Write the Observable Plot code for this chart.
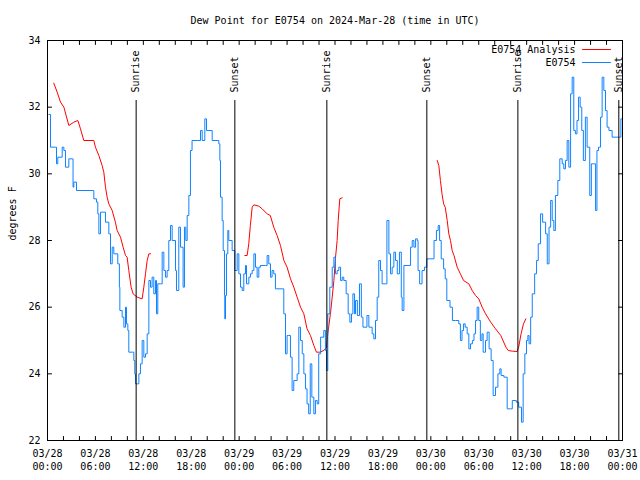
<!DOCTYPE html>
<html>
<head>
<meta charset="utf-8">
<script src="https://cdn.jsdelivr.net/npm/d3@7"></script>
<script src="https://cdn.jsdelivr.net/npm/@observablehq/plot@0.6"></script>
<style>
  html, body { margin: 0; padding: 0; background: white; }
</style>
</head>
<body>
<div id="chart"></div>
<script>
// ---------- DATA (hours since 2024-03-28 00:00 UTC) ----------
const titleText = "Dew Point for E0754 on 2024-Mar-28 (time in UTC)";
const yLabel = "degrees F";
const seriesNames = ["E0754 Analysis", "E0754"];
const yTicks = [22, 24, 26, 28, 30, 32, 34];

const stationHours = [
  0.17,0.38,1.0,1.13,1.29,1.84,2.05,2.25,2.67,3.09,3.2,3.3,3.63,5.72,5.8,6.13,6.3,6.43,6.64,7.05,
  7.26,7.6,7.68,7.89,8.1,8.3,8.8,9.0,9.06,9.35,9.56,9.77,9.89,10.06,10.18,10.6,10.81,10.93,11.02,11.23,
  11.44,11.64,11.85,12.06,12.27,12.48,12.69,12.9,13.1,13.31,13.52,13.65,13.81,14.15,14.36,14.57,14.77,14.98,15.19,15.4,
  15.61,16.03,16.15,16.44,16.65,16.98,17.15,17.32,17.49,17.7,17.9,18.1,18.74,19.16,19.37,19.7,19.91,20.62,21.45,21.58,
  21.66,21.87,22.0,22.16,22.2,22.29,22.41,22.58,22.7,23.12,23.46,23.75,23.96,24.17,24.38,24.58,24.79,24.92,25.21,25.42,
  25.63,25.84,26.04,26.25,26.46,26.67,27.29,27.5,27.71,27.92,28.12,28.33,28.54,29.38,29.59,29.8,30.0,30.2,30.42,30.63,
  30.84,31.26,31.47,31.68,31.9,32.1,32.3,32.5,32.7,32.9,33.1,33.35,33.55,33.77,33.96,34.2,34.6,34.8,34.94,35.1,
  35.35,35.65,35.86,36.06,36.27,36.48,36.7,36.9,37.1,37.4,37.65,37.86,38.07,38.24,38.45,38.57,38.8,39.07,39.3,39.5,
  40.0,40.24,40.65,40.86,41.07,41.28,41.48,41.7,41.9,42.3,42.5,42.75,42.95,43.16,43.37,43.58,43.8,44.07,44.3,44.41,
  44.63,45.25,45.46,45.67,45.88,46.09,46.3,46.4,46.6,46.9,47.2,47.5,48.0,48.4,48.7,48.92,49.1,49.3,49.6,49.8,
  50.0,50.4,50.7,51.1,51.5,51.7,51.9,52.1,52.3,52.55,52.76,52.97,53.2,53.4,53.6,53.8,54.0,54.2,54.4,54.55,
  54.85,55.05,55.3,55.55,55.8,56.1,56.4,56.64,56.8,57.15,57.4,57.56,57.98,58.2,58.7,59.0,59.35,59.56,59.77,59.98,
  60.15,60.3,60.5,60.7,61.0,61.24,61.45,61.74,62.0,62.37,62.58,62.8,63.0,63.2,63.4,63.6,63.9,64.15,64.45,64.65,
  64.86,65.07,65.28,65.5,65.7,65.9,66.1,66.3,66.5,66.7,66.9,67.1,67.35,67.57,67.9,68.1,68.4,68.63,68.8,69.0,
  69.25,69.45,69.66,69.87,70.07,70.3,70.7,71.5,71.8,72.0
];
const stationValues = [
  31.78,30.8,30.8,30.3,30.5,30.8,30.7,30.2,30.45,30.45,29.6,29.75,29.5,29.5,29.25,29.15,28.8,28.2,28.85,28.85,
  28.55,28.55,28.2,27.3,27.8,27.6,27.3,26.6,25.9,25.7,25.4,26.0,25.5,25.3,24.65,24.65,24.4,24.0,23.7,23.7,
  24.0,24.3,25.0,24.5,24.6,25.2,26.8,26.6,26.9,26.4,26.8,25.8,26.7,26.7,27.65,27.1,26.9,27.1,28.0,28.45,
  28.0,27.1,26.5,28.4,27.8,26.6,28.4,28.0,28.75,29.35,30.7,31.0,31.0,31.3,31.0,31.65,31.3,31.0,30.9,30.4,
  29.3,28.6,27.7,26.35,25.65,26.35,27.6,28.3,28.0,27.7,27.1,27.6,27.0,26.6,26.5,27.0,27.25,26.7,26.9,27.0,
  27.1,27.6,27.2,26.9,27.2,27.25,27.25,27.55,27.3,26.9,27.1,27.0,26.55,26.55,25.8,24.6,25.15,25.15,24.5,23.5,
  23.8,24.0,25.4,25.0,24.6,24.0,23.55,23.1,22.8,24.3,23.3,22.8,23.2,23.1,24.6,25.1,25.3,24.7,24.1,25.8,
  26.6,27.2,27.5,27.0,27.1,27.2,26.8,26.9,26.8,26.4,25.8,25.55,25.8,26.4,25.8,26.2,25.75,26.7,25.7,25.4,
  25.75,25.4,25.2,25.05,25.6,26.3,27.4,27.1,26.7,26.7,28.6,27.6,27.0,27.2,27.65,27.4,27.0,27.65,26.3,25.9,
  27.25,27.25,27.8,28.0,27.8,28.05,28.0,27.1,26.7,27.1,27.2,27.45,27.45,28.0,28.3,28.45,28.0,27.45,27.15,26.85,
  26.2,26.0,25.6,25.6,25.5,25.0,25.3,25.5,25.4,25.2,24.75,24.9,25.0,25.2,25.6,26.0,25.6,25.0,25.2,24.65,
  25.0,25.25,24.75,24.4,23.35,23.6,24.0,24.15,23.95,23.9,23.9,22.95,22.95,23.2,23.15,23.0,22.55,24.0,24.6,25.0,
  25.15,24.9,25.7,26.4,27.0,27.4,27.9,28.8,28.55,28.2,27.3,28.4,29.2,28.6,28.3,29.35,29.8,30.45,30.3,30.15,
  30.4,31.0,30.2,32.4,32.9,31.3,31.2,31.6,32.3,32.0,31.3,30.4,31.7,30.8,29.35,30.3,30.3,28.9,30.7,30.8,
  31.7,32.9,32.5,31.9,31.4,31.3,31.1,31.1,31.65,31.65
];

// analysis series: null marks a gap between segments
const analysisHours = [
  0.79,1.21,1.63,2.05,2.67,3.3,3.8,4.13,4.55,5.8,6.0,6.43,6.84,7.05,7.26,7.47,7.68,8.1,8.5,8.72,
  9.14,9.47,9.77,9.97,10.18,10.47,10.72,11.23,11.85,12.06,12.27,12.48,12.69,12.9,
  18.0,
  24.71,25.0,25.2,25.4,25.63,25.84,26.46,26.88,27.5,27.9,28.33,28.75,29.17,29.6,30.0,30.43,30.84,31.26,31.68,32.1,
  32.5,32.93,33.35,33.68,34.1,34.6,34.94,35.1,35.45,35.65,35.86,36.07,36.27,36.4,36.6,36.9,
  42.0,
  48.8,49.0,49.2,49.4,49.6,49.8,50.05,50.25,50.46,50.67,50.9,51.3,51.7,52.1,52.76,53.18,53.6,54.0,54.43,54.85,
  55.5,56.1,56.76,57.4,57.7,58.2,58.8,59.0,59.3,59.6,59.9
];
const analysisValues = [
  32.72,32.45,32.15,32.0,31.45,31.55,31.6,31.35,31.0,31.0,30.8,30.55,30.25,30.05,29.6,29.3,29.1,28.9,28.55,28.3,
  28.1,27.8,27.55,27.5,27.1,26.6,26.4,26.3,26.25,26.6,27.0,27.4,27.6,27.6,
  null,
  27.55,27.55,27.9,28.45,29.0,29.07,29.03,28.95,28.8,28.75,28.4,28.15,27.85,27.4,27.2,26.85,26.6,26.3,26.0,25.8,
  25.35,25.15,24.85,24.65,24.65,24.7,24.8,25.2,25.85,26.3,26.8,27.5,28.0,28.6,29.25,29.28,
  null,
  30.4,30.25,29.8,29.4,29.1,29.0,28.6,28.2,28.0,27.7,27.55,27.2,27.0,26.8,26.7,26.5,26.35,26.25,26.0,25.8,
  25.55,25.35,25.15,24.8,24.7,24.68,24.67,24.8,25.2,25.5,25.65
];

const sunHours = [11.1, 23.46, 34.98, 47.5, 58.9, 71.54];
const sunLabels = ["Sunrise", "Sunset", "Sunrise", "Sunset", "Sunrise", "Sunset"];

// ---------- BUILD ----------
const t0 = Date.UTC(2024, 2, 28);
const t1 = t0 + 72 * 3600e3;
const toDate = h => new Date(t0 + h * 3600e3);

const station = stationHours.map((h, i) => ({t: toDate(h), v: stationValues[i]}));
const analysis = analysisHours.map((h, i) => ({t: toDate(h), v: analysisValues[i]}));
const sun = sunHours.map((h, i) => ({t: toDate(h), label: sunLabels[i]}));

const minorTicks = d3.utcHour.every(2).range(new Date(t0), new Date(t1 + 1));
const majorTicks = d3.utcHour.every(6).range(new Date(t0), new Date(t1 + 1));
const fmt = d3.utcFormat("%m/%d\n%H:%M");

const font = "'DejaVu Sans Mono', 'Liberation Mono', monospace";
const RED = "#ff0000", BLUE = "#0f82ff";
const lineShape = {draw(context, l) { context.moveTo(0, 0); context.lineTo(0, -l); }};

const chart = Plot.plot({
  width: 640,
  height: 480,
  marginLeft: 47,
  marginRight: 18,
  marginTop: 40,
  marginBottom: 40,
  style: {fontFamily: font, fontSize: "10px", background: "white", color: "black"},
  x: {type: "utc", domain: [new Date(t0), new Date(t1)], axis: null},
  y: {domain: [22, 34], axis: null},
  marks: [
    // title and y label
    Plot.text([titleText], {frameAnchor: "top", dy: -20, lineAnchor: "middle", fontSize: 10}),
    Plot.text([yLabel], {frameAnchor: "left", dx: -35, rotate: -90, lineAnchor: "middle", fontSize: 10}),
    // inward ticks
    Plot.vector(minorTicks, {x: d => d, frameAnchor: "bottom", rotate: 0, length: 4, anchor: "start", shape: lineShape, strokeWidth: 1}),
    Plot.vector(minorTicks, {x: d => d, frameAnchor: "top", rotate: 180, length: 4, anchor: "start", shape: lineShape, strokeWidth: 1}),
    Plot.vector(yTicks, {y: d => d, frameAnchor: "left", rotate: 90, length: 4, anchor: "start", shape: lineShape, strokeWidth: 1}),
    Plot.vector(yTicks, {y: d => d, frameAnchor: "right", rotate: -90, length: 4, anchor: "start", shape: lineShape, strokeWidth: 1}),
    // tick labels
    Plot.text(majorTicks, {x: d => d, text: d => fmt(d), frameAnchor: "bottom", dy: 7, lineAnchor: "top", lineHeight: 1.3, fontSize: 10}),
    Plot.text(yTicks, {y: d => d, text: d => String(d), frameAnchor: "left", dx: -7, textAnchor: "end", lineAnchor: "middle", fontSize: 10}),
    // data
    Plot.line(analysis, {x: "t", y: "v", stroke: RED, strokeWidth: 1}),
    Plot.line(station, {x: "t", y: "v", stroke: BLUE, strokeWidth: 1, curve: "step-after"}),
    // sunrise / sunset
    Plot.ruleX(sun, {x: "t", stroke: "black", strokeWidth: 1, insetTop: 60}),
    Plot.text(sun, {x: "t", text: "label", frameAnchor: "top", dy: 52, rotate: -90, textAnchor: "start", lineAnchor: "middle", fontSize: 10}),
    // legend
    Plot.text([seriesNames[0]], {frameAnchor: "top-right", dx: -47, dy: 9, textAnchor: "end", lineAnchor: "middle", fontSize: 10}),
    Plot.text([seriesNames[1]], {frameAnchor: "top-right", dx: -47, dy: 22, textAnchor: "end", lineAnchor: "middle", fontSize: 10}),
    Plot.vector([0], {frameAnchor: "top-right", dx: -12, dy: 9, rotate: 90, length: 28, anchor: "end", shape: lineShape, stroke: RED, strokeWidth: 1}),
    Plot.vector([0], {frameAnchor: "top-right", dx: -12, dy: 22, rotate: 90, length: 28, anchor: "end", shape: lineShape, stroke: BLUE, strokeWidth: 1}),
    Plot.frame({stroke: "black", strokeWidth: 1})
  ]
});
document.getElementById("chart").appendChild(chart);
</script>
</body>
</html>
